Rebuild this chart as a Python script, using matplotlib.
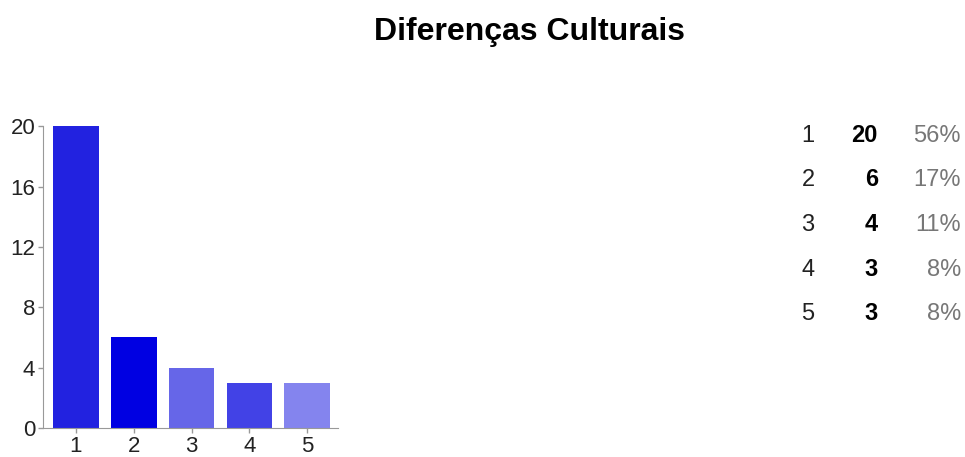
import matplotlib
matplotlib.use("Agg")
import matplotlib.pyplot as plt

# dados do grafico
categorias = [1, 2, 3, 4, 5]
respostas = [20, 6, 4, 3, 3]
percentagens = ["56%", "17%", "11%", "8%", "8%"]
cores = ["#2222e0", "#0000e2", "#6666e8", "#4242e6", "#8484ee"]
yticks = [0, 4, 8, 12, 16, 20]

plt.rcParams['font.family'] = ['Liberation Sans', 'DejaVu Sans']

fig = plt.figure(figsize=(9.65, 4.57), dpi=100)
ax = fig.add_axes([0.0446, 0.0635, 0.3054, 0.6605])

ax.bar(categorias, respostas, width=0.79, color=cores)
ax.set_xlim(0.43, 5.53)
ax.set_ylim(0, 20)
ax.set_xticks(categorias)
ax.set_yticks(yticks)
ax.tick_params(axis='both', colors='#999999', labelcolor='#222222',
               labelsize=16, length=3.6, width=1, pad=2)
ax.tick_params(axis='x', pad=2.5)
for s in ['top', 'right']:
    ax.spines[s].set_visible(False)
for s in ['left', 'bottom']:
    ax.spines[s].set_color('#999999')

fig.text(0.549, 1 - 40 / 457, "Diferenças Culturais", ha='center', va='baseline',
         fontsize=23, fontweight='bold', color='#000000')

# tabela de contagens a direita
y0 = 1 - 142 / 457
dy = 44.5 / 457
for i in range(len(categorias)):
    y = y0 - i * dy
    fig.text(808 / 965, y, str(categorias[i]), ha='center', va='baseline',
             fontsize=17, color='#222222')
    fig.text(878 / 965, y, str(respostas[i]), ha='right', va='baseline',
             fontsize=17, fontweight='bold', color='#000000')
    fig.text(961 / 965, y, percentagens[i], ha='right', va='baseline',
             fontsize=17, color='#777777')

fig.savefig("out.png", dpi=100)
